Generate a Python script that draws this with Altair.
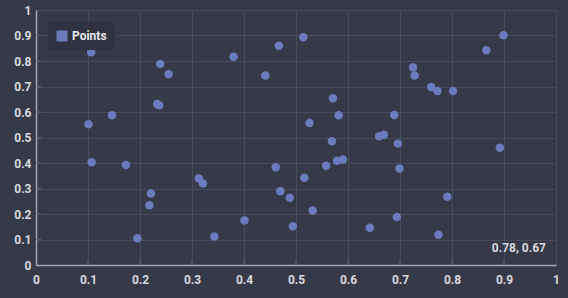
import altair as alt
import pandas as pd

xs = [0.106, 0.239, 0.255, 0.233, 0.237, 0.146, 0.101,
      0.107, 0.173, 0.221, 0.218, 0.195, 0.313, 0.321,
      0.380, 0.467, 0.514, 0.441, 0.571, 0.582, 0.526, 0.689, 0.660, 0.669, 0.569, 0.696,
      0.461, 0.558, 0.579, 0.590, 0.516, 0.470, 0.488, 0.532, 0.401, 0.494, 0.343, 0.642, 0.694, 0.699,
      0.899, 0.866, 0.725, 0.728, 0.760, 0.772, 0.802, 0.892,
      0.791, 0.774]
ys = [0.834, 0.788, 0.748, 0.631, 0.626, 0.587, 0.552,
      0.403, 0.392, 0.280, 0.234, 0.105, 0.339, 0.320,
      0.817, 0.860, 0.893, 0.743, 0.654, 0.587, 0.557, 0.588, 0.505, 0.511, 0.485, 0.476,
      0.383, 0.389, 0.409, 0.414, 0.342, 0.289, 0.264, 0.214, 0.175, 0.152, 0.112, 0.146, 0.188, 0.378,
      0.901, 0.842, 0.775, 0.743, 0.698, 0.682, 0.682, 0.460,
      0.268, 0.119]
series = ["Points"] * len(xs)
cursor_text = "0.78, 0.67"
tick_values = [0.1, 0.2, 0.3, 0.4, 0.5, 0.6, 0.7, 0.8, 0.9]

df = pd.DataFrame({"x": xs, "y": ys, "series": series})
tdf = pd.DataFrame({"v": tick_values})

BG = "#363948"
PT = "#6a7cbd"
LBL = "#d8d9de"
TICK = "#62657a"
FONT = "Roboto"
ticks = [0] + tick_values + [1]

xscale = alt.Scale(domain=[0, 1], nice=False)
yscale = alt.Scale(domain=[0, 1], nice=False)


def ax():
    return alt.Axis(values=ticks, format="~g", title=None, labelFlush=False,
                    labelOverlap=False)


points = alt.Chart(df).mark_circle(size=72, opacity=1).encode(
    x=alt.X("x:Q", scale=xscale, axis=ax()),
    y=alt.Y("y:Q", scale=yscale, axis=ax()),
    color=alt.Color("series:N", scale=alt.Scale(range=[PT]),
                    legend=alt.Legend(title=None, orient="none", legendX=12, legendY=12,
                                      symbolType="square", symbolSize=121,
                                      symbolStrokeWidth=0, symbolOpacity=1,
                                      labelColor="#e6e7ec", labelFont=FONT,
                                      labelFontSize=12, labelFontWeight="bold",
                                      fillColor="#30333f", padding=8,
                                      cornerRadius=2)),
)

xticks = alt.Chart(tdf).mark_rule(color=TICK, strokeWidth=1).encode(
    x=alt.X("v:Q", scale=xscale, axis=ax()), y=alt.value(255), y2=alt.value(250))
yticks = alt.Chart(tdf).mark_rule(color=TICK, strokeWidth=1).encode(
    y=alt.Y("v:Q", scale=yscale, axis=ax()), x=alt.value(0), x2=alt.value(5))

label = alt.Chart(pd.DataFrame({"t": [cursor_text]})).mark_text(
    align="right", baseline="middle", font=FONT, fontSize=12, fontWeight="bold",
    color=LBL).encode(text="t:N", x=alt.value(510), y=alt.value(238))

chart = alt.layer(points, xticks, yticks, label).properties(
    width=520, height=255, background=BG,
    padding={"left": 36, "top": 10, "right": 12, "bottom": 33},
    autosize=alt.AutoSizeParams(type="none"),
).configure_view(stroke="#8e909c", strokeWidth=1).configure_axis(
    grid=True, gridColor="#484b5b", gridWidth=1, labelOverlap=False,
    domainColor="#a4a6b0", domainWidth=1.5, tickSize=0,
    labelColor=LBL, labelFont=FONT, labelFontSize=12, labelFontWeight="bold",
).configure_axisX(labelPadding=9).configure_axisY(labelPadding=5)

chart.save("out.html", embed_options={"renderer": "svg", "actions": False})
